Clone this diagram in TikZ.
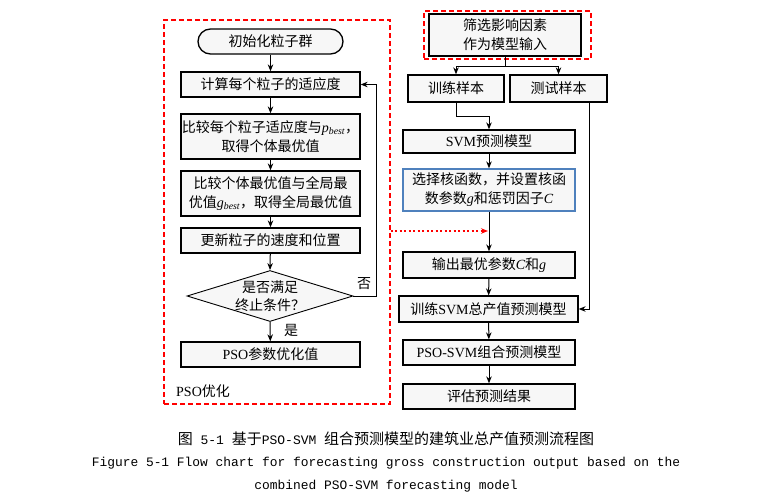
\documentclass[tikz,border=0pt]{standalone}
\usepackage{fontspec}
\setmainfont{Liberation Serif}
\newfontfamily\cjkf{Noto Sans CJK SC}
\newfontfamily\latf{Liberation Serif}
\newfontfamily\monof{Liberation Mono}
\usetikzlibrary{arrows.meta,shapes.geometric}
\definecolor{boxfill}{HTML}{F7F7F7}
\definecolor{boxblue}{HTML}{4F81BD}
\newcommand\LatT[1]{{\latf #1}}
\newcommand\MathV[1]{{\latf\itshape #1}}
\newcommand\MathSub[2]{{\latf\itshape #1\textsubscript{#2}}}
\tikzset{
  box/.style={draw=black, line width=1.3pt, fill=boxfill, inner sep=0pt,
    minimum height=25pt, minimum width=179pt,
    font=\cjkf\fontsize{14}{19}\selectfont, align=center},
  bluebox/.style={box, draw=boxblue},
  ovalbox/.style={box, rounded corners=12.5pt, minimum width=145pt},
  dia/.style={draw=black, line width=0.9pt, fill=boxfill, shape=diamond,
    inner sep=0pt, minimum width=166pt, minimum height=51pt},
  txt/.style={font=\cjkf\fontsize{14}{18}\selectfont, align=center, inner sep=0pt},
  arr/.style={-{Stealth[length=7pt,width=5.5pt]}, line width=1pt},
  ln/.style={line width=1pt},
  reddash/.style={draw=red, line width=1.4pt, dash pattern=on 5pt off 3pt},
  reddot/.style={draw=red, line width=1.4pt, dash pattern=on 2pt off 2.5pt,
    -{Stealth[length=7pt,width=5.5pt]}},
  captext/.style={inner sep=0pt, anchor=center}
}
\begin{document}
\begin{tikzpicture}[x=1pt,y=-1pt]
\useasboundingbox (0,0) rectangle (758,496);
% ---- left: PSO frame
\node[reddash, minimum width=226pt, minimum height=384pt, inner sep=0pt] (frame) at (277,212) {};
\node[txt, anchor=west] (psolab) at (176,391) {\LatT{PSO}优化};
\node[ovalbox] (init) at (270.5,41.5) {初始化粒子群};
\node[box] (b1) at (270.5,84.5) {计算每个粒子的适应度};
\node[box, minimum height=45pt] (b2) at (270.5,136.5) {比较每个粒子适应度与\MathSub{p}{best}，\\取得个体最优值};
\node[box, minimum height=45pt] (b3) at (270.5,193.5) {比较个体最优值与全局最\\优值\MathSub{g}{best}，取得全局最优值};
\node[box] (b4) at (270.5,240.5) {更新粒子的速度和位置};
\node[dia] (d) at (270,296) {};
\node[txt] (dt) at (d.center) {是否满足\\终止条件？};
\node[box] (b5) at (270.5,354.5) {\LatT{PSO}参数优化值};
\node[txt] (no) at (364,284) {否};
\node[txt] (yes) at (291,330) {是};
\coordinate (lp) at (376,296);
\draw[arr] (init) -- (b1);
\draw[arr] (b1) -- (b2);
\draw[arr] (b2) -- (b3);
\draw[arr] (b3) -- (b4);
\draw[arr] (b4) -- (d.north);
\draw[arr] (d.south) -- (b5);
\draw[arr] (d.east) -- (lp) |- (b1.east);
% ---- right column
\node[reddash, minimum width=167pt, minimum height=48pt, inner sep=0pt] (selfr) at (507.5,35) {};
\node[box, minimum width=152pt, minimum height=42pt] (sel) at (505,35) {筛选影响因素\\作为模型输入};
\node[box, minimum width=96pt, minimum height=27pt] (tr) at (456,88.5) {训练样本};
\node[box, minimum width=97pt, minimum height=27pt] (te) at (558.5,88.5) {测试样本};
\node[box, minimum width=172pt, minimum height=23pt] (svm) at (489,141.5) {\LatT{SVM}预测模型};
\node[bluebox, minimum width=172pt, minimum height=42pt] (ker) at (489,190) {选择核函数，并设置核函\\数参数\MathV{g}和惩罚因子\MathV{C}};
\node[box, minimum width=172pt, minimum height=26pt] (out) at (489,265) {输出最优参数\MathV{C}和\MathV{g}};
\node[box, minimum width=179pt, minimum height=26pt] (trn) at (488.5,309) {训练\LatT{SVM}总产值预测模型};
\node[box, minimum width=172pt] (pso) at (489,352.5) {\LatT{PSO-SVM}组合预测模型};
\node[box, minimum width=172pt] (ev) at (489,396.5) {评估预测结果};
\coordinate (sp) at (505,66);
\coordinate (tb) at (589,102);
\coordinate (dj) at (488,231);
\draw[ln] (sel.south) -- (sp);
\draw[arr] (sp) -| (tr.north);
\draw[arr] (sp) -| (te.north);
\draw[arr] (tr.south) -- ++(0,14) -| (svm.north);
\draw[arr] (svm) -- (ker);
\draw[arr] (ker) -- (out);
\draw[arr] (out) -- (trn);
\draw[arr] (trn) -- (pso);
\draw[arr] (pso) -- (ev);
\draw[arr] (tb) |- (trn.east);
\draw[reddot] (frame.east |- dj) -- (dj);
% ---- captions
\node[captext] (c1) at (386,439) {\cjkf\fontsize{15}{18}\selectfont 图{\monof\fontsize{13}{18}\selectfont\ 5-1\ }基于{\monof\fontsize{13}{18}\selectfont PSO-SVM\ }组合预测模型的建筑业总产值预测流程图};
\node[captext] (c2) at (386,463) {\monof\fontsize{12.9}{16}\selectfont Figure 5-1 Flow chart for forecasting gross construction output based on the};
\node[captext] (c3) at (386,486) {\monof\fontsize{12.9}{16}\selectfont combined PSO-SVM forecasting model};
\end{tikzpicture}
\end{document}
